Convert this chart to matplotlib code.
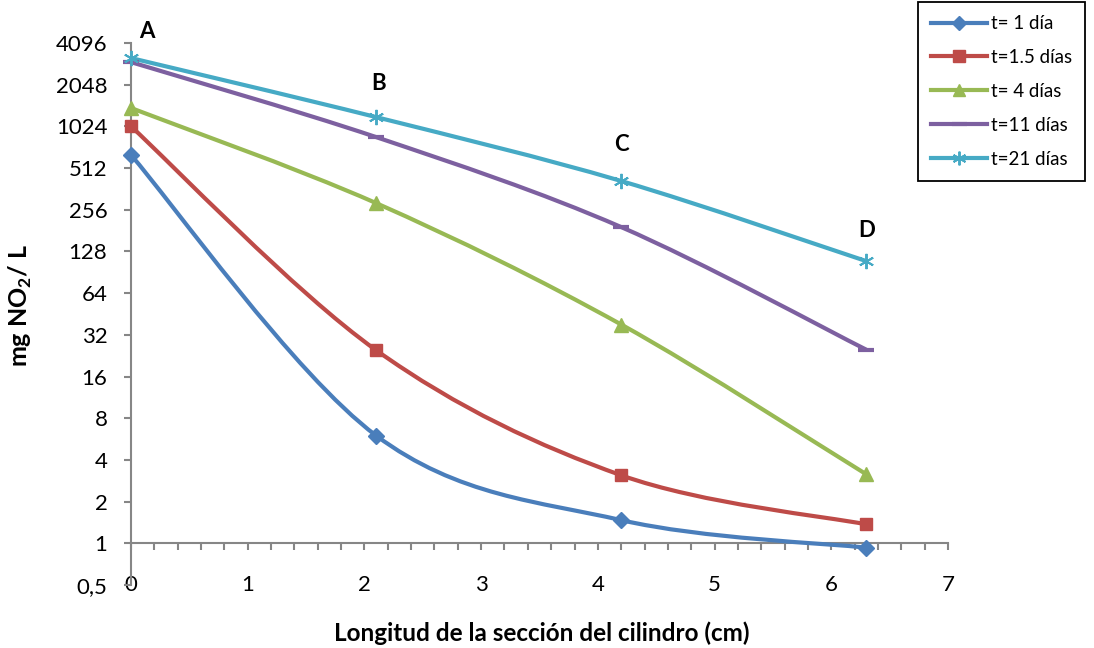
import matplotlib
matplotlib.use('Agg')
import matplotlib.pyplot as plt
import numpy as np
from matplotlib.path import Path
from matplotlib.patches import PathPatch
from matplotlib.lines import Line2D

plt.rcParams['font.family'] = ['Lato', 'DejaVu Sans']
plt.rcParams['mathtext.fontset'] = 'custom'
plt.rcParams['mathtext.rm'] = 'Lato'
plt.rcParams['mathtext.bf'] = 'Lato:bold'

# data
x_cm = [0.0, 2.1, 4.2, 6.3]
t_1 = [636, 6.0, 1.47, 0.93]
t_1_5 = [1024, 24.8, 3.1, 1.37]
t_4 = [1390, 286, 38, 3.15]
t_11 = [2980, 857, 192, 25]
t_21 = [3190, 1195, 413, 109]

labels = ['t= 1 día', 't=1.5 días', 't= 4 días', 't=11 días', 't=21 días']
series = [t_1, t_1_5, t_4, t_11, t_21]
colors = ['#4A7EBB', '#BE4B48', '#98B954', '#7D60A0', '#46AAC5']
markers = ['D', 's', '^', '_', (6, 2, 0)]
msizes = [8, 9, 10, 12, 11]

point_names = ['A', 'B', 'C', 'D']
point_x = [0.14, 2.12, 4.2, 6.3]
point_y = [5000, 2100, 760, 182]

y_ticks = [0.5, 1, 2, 4, 8, 16, 32, 64, 128, 256, 512, 1024, 2048, 4096]
y_ticklabels = ['0,5'] + [str(v) for v in y_ticks[1:]]

GRAY = '#868686'
SX, SY = 116.7, 41.67  # px per cm, px per octave (screen-space smoothing)


def smooth_path(xs, ys):
    # Excel-like smoothed line: cubic Bezier through the points in screen space
    px = np.array(xs) * SX
    py = np.log2(ys) * SY
    n = len(px)
    verts = [(px[0], py[0])]
    codes = [Path.MOVETO]
    for i in range(n - 1):
        i0, i3 = max(i - 1, 0), min(i + 2, n - 1)
        c1 = (px[i] + (px[i + 1] - px[i0]) / 6, py[i] + (py[i + 1] - py[i0]) / 6)
        c2 = (px[i + 1] - (px[i3] - px[i]) / 6, py[i + 1] - (py[i3] - py[i]) / 6)
        verts += [c1, c2, (px[i + 1], py[i + 1])]
        codes += [Path.CURVE4] * 3
    verts = [(vx / SX, 2 ** (vy / SY)) for vx, vy in verts]
    return Path(verts, codes)


fig = plt.figure(figsize=(10.94, 6.48), dpi=100)
ax = fig.add_axes([131 / 1094, 1 - 585 / 648, (948 - 131) / 1094, (585 - 43) / 648])
ax.set_yscale('log', base=2)
ax.set_xlim(0, 7)
ax.set_ylim(0.5, 4096)

handles = []
for ys, lab, c, m, ms in zip(series, labels, colors, markers, msizes):
    ax.add_patch(PathPatch(smooth_path(x_cm, ys), facecolor='none', edgecolor=c,
                           lw=3.0, clip_on=False, zorder=3))
    mew = 1.4 if m == (6, 2, 0) else (3 if m == '_' else 1)
    ax.plot(x_cm, ys, ls='none', marker=m, ms=ms, color=c, mec=c, mew=mew,
            clip_on=False, zorder=4)
    handles.append(Line2D([], [], color=c, lw=3.0, marker=m, ms=ms * 0.9, mec=c, mew=mew))

for name, px, py in zip(point_names, point_x, point_y):
    ax.text(px, py, name, ha='center', va='center', fontsize=16, fontweight='bold', clip_on=False)

# axes styling
for s in ['top', 'right']:
    ax.spines[s].set_visible(False)
ax.spines['left'].set_color(GRAY)
ax.spines['left'].set_linewidth(1.5)
ax.spines['bottom'].set_position(('data', 1))
ax.spines['bottom'].set_color(GRAY)
ax.spines['bottom'].set_linewidth(1.5)

ax.set_yticks(y_ticks)
ax.set_yticklabels(y_ticklabels)
ax.yaxis.set_minor_locator(matplotlib.ticker.NullLocator())
ax.set_xticks(range(8))
ax.set_xticks(np.arange(0, 7.01, 0.2), minor=True)
ax.tick_params(axis='y', which='major', direction='out', length=5, width=1.5, color=GRAY,
               labelsize=16, pad=12)
ax.tick_params(axis='x', which='both', direction='out', length=5, width=1.5, color=GRAY,
               labelsize=16, pad=18)

fig.text(20 / 1094, 1 - 305 / 648, r'mg NO$_{\mathbf{2}}$/ L', rotation=90,
         ha='center', va='center', fontsize=18, fontweight='bold')
fig.text(542 / 1094, 1 - 633 / 648, 'Longitud de la sección del cilindro (cm)',
         ha='center', va='center', fontsize=17.5, fontweight='bold')

leg = fig.legend(handles, labels, loc='upper left', bbox_to_anchor=(918 / 1094, 1 - 2 / 648),
                 borderaxespad=0, fontsize=13.5, handlelength=3.0, labelspacing=0.9,
                 handletextpad=0.2, borderpad=0.7, fancybox=False, framealpha=1)
leg.get_frame().set_edgecolor('black')
leg.get_frame().set_linewidth(1.3)

fig.savefig('out.png', dpi=100)
